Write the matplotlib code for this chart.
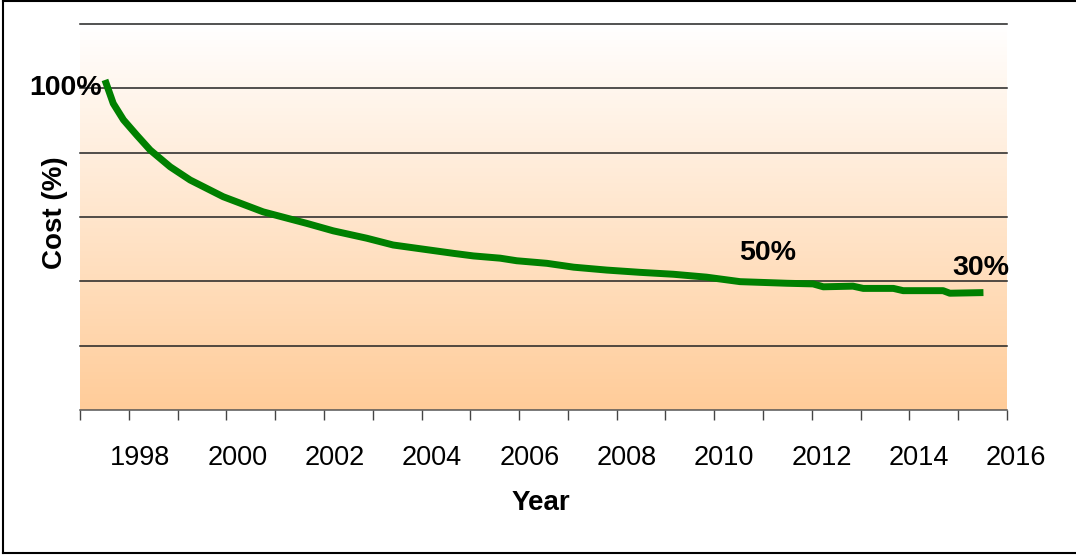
import numpy as np
import matplotlib
matplotlib.use("Agg")
import matplotlib.pyplot as plt
from matplotlib.lines import Line2D
from matplotlib.colors import LinearSegmentedColormap
import matplotlib.transforms as mtransforms

plt.rcParams['font.family'] = ['Liberation Sans', 'DejaVu Sans']

# Relative cost over time
years = [1997.28, 1997.45, 1997.66, 1997.93, 1998.21, 1998.62, 1999.03, 1999.71,
         2000.53, 2001.43, 2001.97,
         2002.66, 2003.20, 2003.82, 2004.44, 2004.85, 2005.40, 2005.74, 2006.36,
         2006.91, 2007.59, 2008.27, 2008.96, 2009.64, 2010.33, 2011.29, 2011.83,
         2012.04, 2012.65, 2012.86, 2013.48, 2013.68, 2014.50, 2014.64, 2015.33]
cost = [102.6, 95.3, 90.2, 85.5, 80.8, 75.6, 71.5, 66.3,
        61.6, 58.0, 55.7,
        53.4, 51.3, 50.0, 48.7, 47.9, 47.2, 46.4, 45.6,
        44.4, 43.5, 42.8, 42.2, 41.3, 39.9, 39.4, 39.2,
        38.3, 38.5, 37.8, 37.8, 37.1, 37.1, 36.3, 36.5]

year_labels = [1998, 2000, 2002, 2004, 2006, 2008, 2010, 2012, 2014, 2016]
grid_values = [0, 20, 40, 60, 80, 100, 120]

annotations = [("100%", 1997.22, 100.1, "right"),
               ("50%", 2010.90, 48.8, "center"),
               ("30%", 2015.27, 44.1, "center")]

x_min, x_max = 1996.767, 2015.814

fig = plt.figure(figsize=(10.76, 5.55), dpi=100)
ax = fig.add_axes([80 / 1076, 1 - 410 / 555, 927 / 1076, 386 / 555])

# Peach gradient background of the plot area
cmap = LinearSegmentedColormap.from_list("peach", ["#FFFFFF", "#FFCC99"])
grad = np.linspace(0, 1, 256).reshape(-1, 1)
ax.imshow(grad, aspect="auto", cmap=cmap, extent=[0, 1, 0, 1],
          transform=ax.transAxes, zorder=0, origin="upper")

ax.set_xlim(x_min, x_max)
ax.set_ylim(grid_values[0], grid_values[-1])

for g in grid_values[1:]:
    ax.axhline(g, color="#222222", lw=1.1, zorder=1, clip_on=False)

ax.plot(years, cost, color="#008000", lw=5.0, solid_joinstyle="round",
        solid_capstyle="butt", zorder=3)

for s in ["left", "right", "top"]:
    ax.spines[s].set_visible(False)
ax.spines["bottom"].set_color("#555555")
ax.spines["bottom"].set_linewidth(1.1)

ax.set_yticks([])
ax.set_xticks(np.linspace(x_min, x_max, 20))
ax.set_xticklabels([])
ax.tick_params(axis="x", direction="out", length=7.2, width=1.0, color="#444444")

trans = mtransforms.blended_transform_factory(ax.transData, ax.transAxes)
for y in year_labels:
    ax.text(y, -(458 - 410) / 386, str(y), transform=trans, ha="center",
            va="center", fontsize=19.5, clip_on=False)

for txt, x, y, ha in annotations:
    ax.text(x, y, txt, ha=ha, va="center", fontsize=20.5, fontweight="bold",
            zorder=4, clip_on=False)

fig.text(541 / 1076, 1 - 503 / 555, "Year", ha="center", va="center",
         fontsize=20, fontweight="bold")
fig.text(55 / 1076, 1 - 213 / 555, "Cost (%)", ha="center", va="center",
         fontsize=20, fontweight="bold", rotation=90)

# Frame around the chart
W, H = 1076, 555
for xs, ys in [([3, 3], [1, 553]), ([3, 1076], [1, 1]), ([3, 1076], [553, 553])]:
    fig.add_artist(Line2D([v / W for v in xs], [1 - v / H for v in ys],
                          color="black", lw=1.5, transform=fig.transFigure))

fig.savefig("out.png", dpi=100)
